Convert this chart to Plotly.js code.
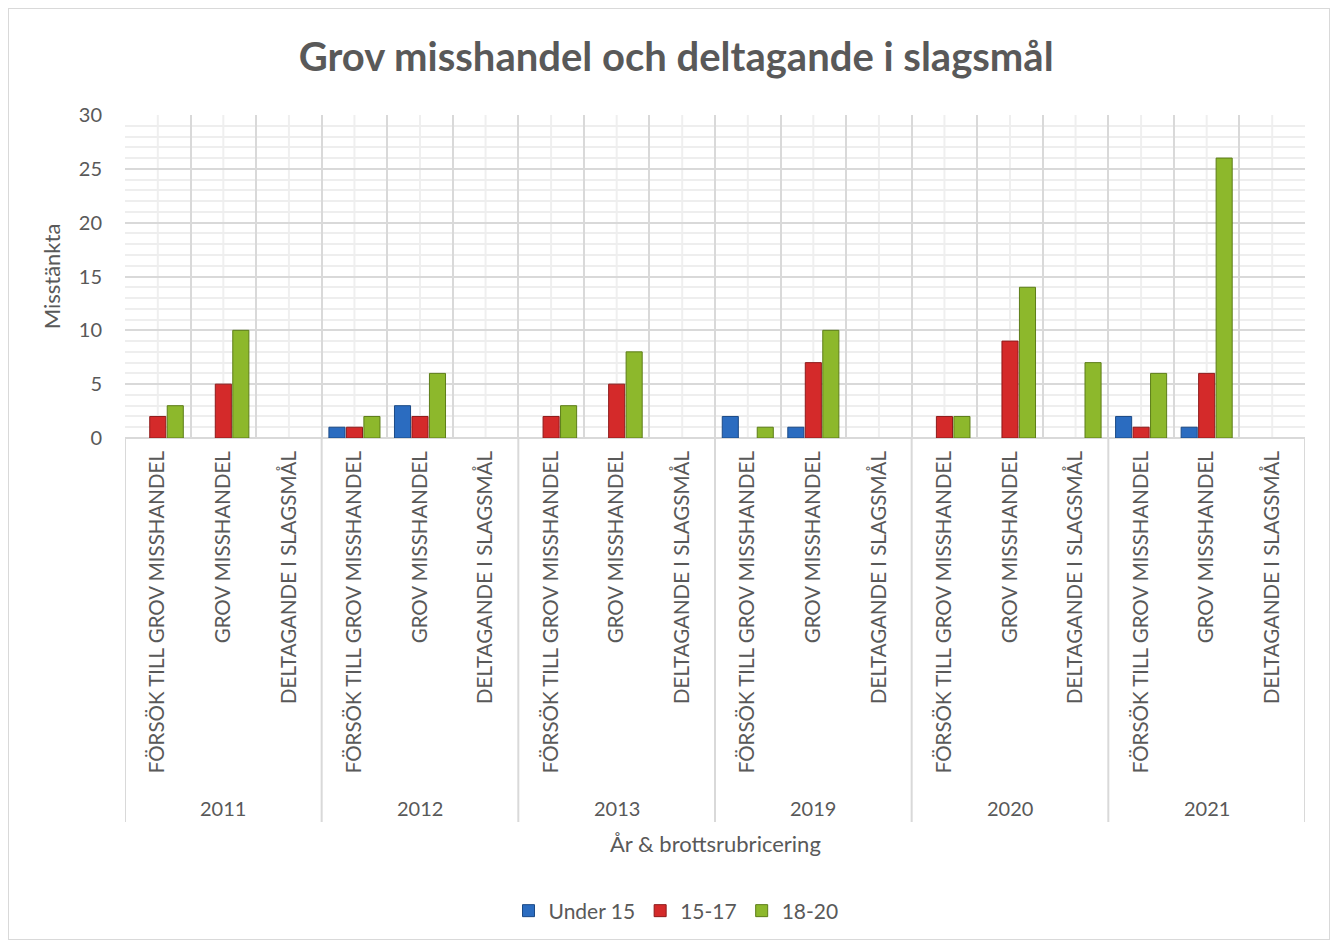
<!DOCTYPE html>
<html>
<head>
<meta charset="utf-8">
<script src="https://cdn.plot.ly/plotly-3.0.1.min.js"></script>
<style>
  body { margin: 0; background: #fff; }
  #wrap { position: relative; width: 1339px; height: 943px; }
  #chart { width: 1339px; height: 943px; }
  #frame { position: absolute; left: 8px; top: 8px; width: 1322px; height: 932px; border: 1px solid #d9d9d9; pointer-events: none; box-sizing: border-box; }
</style>
</head>
<body>
<div id="wrap">
  <div id="chart"></div>
  <div id="frame"></div>
</div>
<script>
const years = ['2011', '2012', '2013', '2019', '2020', '2021'];
const crimes = ['FÖRSÖK TILL GROV MISSHANDEL', 'GROV MISSHANDEL', 'DELTAGANDE I SLAGSMÅL'];
const seriesNames = ['Under 15', '15-17', '18-20'];
const under15 = [0, 0, 0, 1, 3, 0, 0, 0, 0, 2, 1, 0, 0, 0, 0, 2, 1, 0];
const age15to17 = [2, 5, 0, 1, 2, 0, 2, 5, 0, 0, 7, 0, 2, 9, 0, 1, 6, 0];
const age18to20 = [3, 10, 0, 2, 6, 0, 3, 8, 0, 1, 10, 0, 2, 14, 7, 6, 26, 0];

const keys = [];
const tickText = [];
years.forEach(y => crimes.forEach(c => { keys.push(y + ' ' + c); tickText.push(c); }));

const colors = ['#2b6cc0', '#d42a2a', '#8db82c'];
const edges = ['#1b4a86', '#8e1a1a', '#5d7d18'];
const values = [under15, age15to17, age18to20];

const FONT = 'Lato, sans-serif';
const GREY = '#595959';

const traces = values.map((v, i) => ({
  type: 'bar',
  name: seriesNames[i],
  x: keys,
  y: v.map(d => d === 0 ? null : d),
  marker: { color: colors[i], line: { color: edges[i], width: 1 } },
  hoverinfo: 'x+y+name'
}));

const plotLeft = 125, plotRight = 1305, plotW = plotRight - plotLeft;
const plotTop = 115, plotBottom = 438, plotH = plotBottom - plotTop;
const py = px => (plotBottom - px) / plotH;
const pxX = px => (px - plotLeft) / plotW;

const shapes = [];
keys.forEach((k, i) => {
  shapes.push({ type: 'line', layer: 'below', xref: 'x', yref: 'paper', x0: i, x1: i, y0: 0, y1: 1,
    line: { color: '#efefef', width: 2 } });
});
for (let j = 0; j <= years.length; j++) {
  const xv = j * crimes.length - 0.5;
  shapes.push({ type: 'line', xref: 'x', yref: 'paper', x0: xv, x1: xv, y0: 0, y1: py(822),
    line: { color: '#d9d9d9', width: 2 } });
}

const annotations = years.map((y, j) => ({
  xref: 'x', yref: 'paper', x: j * crimes.length + 1, y: py(808),
  text: y, showarrow: false, xanchor: 'center', yanchor: 'middle',
  font: { family: FONT, size: 20, color: GREY }
}));
annotations.push({
  xref: 'paper', yref: 'paper', x: 0.5, y: py(843), text: 'År &amp; brottsrubricering',
  showarrow: false, xanchor: 'center', yanchor: 'middle',
  font: { family: FONT, size: 22, color: GREY }
});

const layout = {
  width: 1339, height: 943,
  paper_bgcolor: 'rgba(0,0,0,0)', plot_bgcolor: '#ffffff',
  margin: { l: plotLeft, r: 1339 - plotRight, t: plotTop, b: 943 - plotBottom },
  title: { text: '<b>Grov misshandel och deltagande i slagsmål</b>', x: 0.505, xref: 'container', xanchor: 'center',
    y: 1 - 57 / 943, yref: 'container', yanchor: 'middle',
    font: { family: FONT, size: 40, color: GREY } },
  barmode: 'group', bargap: 0.2, bargroupgap: 0.08,
  xaxis: {
    type: 'category', tickvals: keys, ticktext: tickText, tickangle: -90, automargin: false,
    tickson: 'boundaries', showgrid: true, gridcolor: '#d9d9d9', gridwidth: 2,
    ticks: '', showline: false, zeroline: false, ticklabelstandoff: 8,
    tickfont: { family: FONT, size: 20.5, color: GREY },
    range: [-0.5, keys.length - 0.5], fixedrange: true
  },
  yaxis: {
    range: [0, 30], dtick: 5, tick0: 0, showgrid: true, gridcolor: '#d9d9d9', gridwidth: 2, automargin: false,
    minor: { dtick: 1, showgrid: true, gridcolor: '#eeeeee', gridwidth: 2 },
    zeroline: true, zerolinecolor: '#d9d9d9', zerolinewidth: 2, showline: false, ticks: '',
    ticklabelstandoff: 22,
    tickfont: { family: FONT, size: 20, color: GREY },
    title: { text: 'Misstänkta', standoff: 12, font: { family: FONT, size: 22, color: GREY } }
  },
  legend: { orientation: 'h', x: pxX(676), xanchor: 'center', y: py(911), yanchor: 'middle', xref: 'paper', yref: 'paper',
    font: { family: FONT, size: 21, color: GREY }, itemwidth: 30, traceorder: 'normal' },
  shapes: shapes,
  annotations: annotations,
  showlegend: true
};

Plotly.newPlot('chart', traces, layout, { displayModeBar: false, staticPlot: true });
</script>
</body>
</html>
